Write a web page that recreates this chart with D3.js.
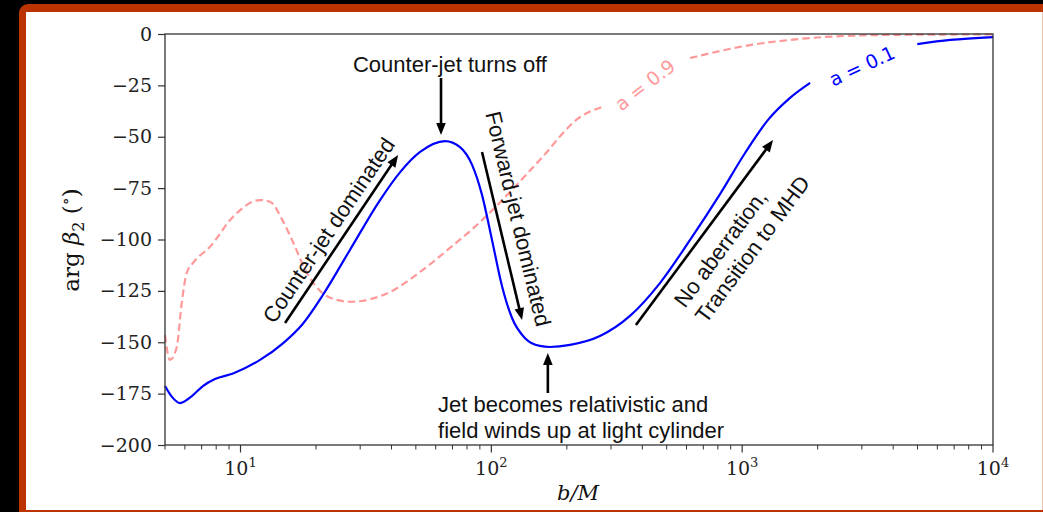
<!DOCTYPE html>
<html>
<head>
<meta charset="utf-8">
<script src="https://cdn.jsdelivr.net/npm/d3@7"></script>
<style>
body { margin: 0; background: #000; }
svg { display: block; }
</style>
</head>
<body>
<script>
// a = 0.1 (solid blue): b/M and arg beta_2 in degrees
var bLow = [5, 5.33, 5.74, 6.4, 7.08, 7.91, 9.34, 11.96, 14.8, 17.7, 21.3, 27.3, 36.0, 43.3, 52, 65.4, 75, 83.8, 91.8, 100.6, 110,
            120.9, 136, 156, 171, 206, 271, 357, 470, 620, 816, 1027, 1268, 1552, 1866, 2457, 3236, 4990, 6745, 10000];
var argLow = [-171.3, -176.6, -179.6, -176.2, -171.3, -167.9, -165.2, -158.6, -150.4, -141.1, -127.0, -105.1, -80.8, -67.2, -57.4, -52.1, -55.0, -63.7, -78.3, -100.2, -122.1,
              -138.2, -147.9, -151.8, -152.3, -151.3, -147.0, -137.2, -121.2, -100.2, -77.9, -57.9, -41.8, -31.1, -23.8, -15.6, -10.2, -4.9, -2.9, -1.5];

// a = 0.9 (dashed light red)
var bHigh = [5, 5.23, 5.57, 5.83, 6.1, 6.47, 7.56, 9.35, 11.96, 13.1, 14.8, 16.2, 18.4, 21.3, 24.2, 27.3, 39.5, 52, 68.4, 90.2,
             118.7, 156, 226, 276, 410, 620, 1075, 1701, 3548, 10000];
var argHigh = [-146.5, -158.6, -152.3, -130.9, -116.3, -111.4, -103.5, -88.9, -80.8, -81.6, -91.3, -101.3, -116.4, -126.2, -129.4, -130.3, -125.5, -115.8, -104.1, -91.5,
               -76.9, -61.3, -40.4, -35.5, -24.8, -11.7, -5.4, -2.4, -0.5, -0.2];

var yTicks = [0, -25, -50, -75, -100, -125, -150, -175, -200];
var xTicks = [10, 100, 1000, 10000];
var xTickExp = ["1", "2", "3", "4"];

// inline line labels: [b, arg, text]
var lineLabels = [[410, -24.8, "a = 0.9"], [3006, -15.6, "a = 0.1"]];
// line gaps behind the labels (b range)
var gapLow = [1866, 4990];
var gapHigh = [276, 620];

// annotation arrows, from / to in data coords
var arrowFrom = [[63, -21.4], [15.05, -140.6], [91.8, -57.4], [168, -174.7], [377, -141.6]];
var arrowTo   = [[63, -49.1], [42.5, -58.9], [132.6, -139.2], [168, -155.2], [1328, -51.6]];

var W = 1043, H = 512;
var svg = d3.select("body").append("svg").attr("width", W).attr("height", H);

// slide frame
svg.append("rect").attr("x", 19).attr("y", 4).attr("width", 1040).attr("height", 530).attr("rx", 9)
    .style("fill", "#bb3400");
svg.append("rect").attr("x", 26).attr("y", 12).attr("width", 1016).attr("height", 498).style("fill", "#fff");
svg.append("line").attr("x1", 1042.5).attr("x2", 1042.5).attr("y1", 12).attr("y2", 510)
    .style("stroke", "#efc2ad");

var x = d3.scaleLog().domain([5, 10000]).range([165, 993]);
var y = d3.scaleLinear().domain([-200, 0]).range([445, 34]);

var serif = "'DejaVu Serif', serif";
var sans = "'Liberation Sans', Arial, sans-serif";

// y axis
var yAxis = svg.append("g").attr("transform", "translate(165,0)")
    .call(d3.axisLeft(y).tickValues(yTicks).tickSize(7).tickPadding(6));
yAxis.select(".domain").remove();
yAxis.selectAll("line").style("stroke", "#333").style("stroke-width", 1.2);
yAxis.selectAll("text").style("font-family", serif).style("font-size", "19px").style("fill", "#222");

// x axis: minor ticks from the log scale, majors labelled 10^n
var minor = x.ticks().filter(function(d) { return xTicks.indexOf(d) < 0; });
var xg = svg.append("g").attr("transform", "translate(0,445)");
xg.selectAll(".minor").data(minor).enter().append("line")
    .attr("x1", function(d) { return x(d); }).attr("x2", function(d) { return x(d); })
    .attr("y1", 0).attr("y2", 4.5)
    .style("stroke", "#333").style("stroke-width", 1);
xg.selectAll(".major").data(xTicks).enter().append("line")
    .attr("x1", function(d) { return x(d); }).attr("x2", function(d) { return x(d); })
    .attr("y1", 0).attr("y2", 7.5)
    .style("stroke", "#333").style("stroke-width", 1.2);
var xl = xg.selectAll(".lab").data(xTicks).enter().append("text")
    .attr("x", function(d) { return x(d); }).attr("y", 30)
    .attr("text-anchor", "middle")
    .style("font-family", serif).style("font-size", "19px").style("fill", "#222");
xl.append("tspan").text("10");
xl.append("tspan").attr("dy", -8).style("font-size", "13px").text(function(d, i) { return xTickExp[i]; });

// curves
var ptsLow = bLow.map(function(b, i) { return {b: b, v: argLow[i]}; });
var ptsHigh = bHigh.map(function(b, i) { return {b: b, v: argHigh[i]}; });

function lineWithGap(gap) {
    return d3.line()
        .defined(function(d) { return !(d.b > gap[0] && d.b < gap[1]); })
        .x(function(d) { return x(d.b); })
        .y(function(d) { return y(d.v); })
        .curve(d3.curveMonotoneX);
}

svg.append("path").datum(ptsHigh).attr("d", lineWithGap(gapHigh))
    .style("fill", "none").style("stroke", "#ff9999").style("stroke-width", 2.2)
    .style("stroke-dasharray", "7.4,4");
svg.append("path").datum(ptsLow).attr("d", lineWithGap(gapLow))
    .style("fill", "none").style("stroke", "#0000ff").style("stroke-width", 2.2);

// inline labels
var labelRot = [-38, -25];
var labelCol = ["#ff9999", "#0000ff"];
lineLabels.forEach(function(l, i) {
    svg.append("text")
        .attr("transform", "translate(" + x(l[0]) + "," + y(l[1]) + ") rotate(" + labelRot[i] + ")")
        .attr("text-anchor", "middle").attr("dy", "0.35em")
        .style("font-family", "'DejaVu Sans', sans-serif").style("font-size", "19px")
        .style("fill", labelCol[i]).text(l[2]);
});

// plot frame
svg.append("rect").attr("x", 165).attr("y", 34).attr("width", 828).attr("height", 411)
    .style("fill", "none").style("stroke", "#333").style("stroke-width", 1.3);

// annotation arrows
var arrows = arrowFrom.map(function(f, i) {
    var t = arrowTo[i];
    var x1 = x(f[0]), y1 = y(f[1]), x2 = x(t[0]), y2 = y(t[1]);
    var dx = x2 - x1, dy = y2 - y1, L = Math.hypot(dx, dy);
    return {x1: x1, y1: y1, x2: x2, y2: y2, L: L, ang: Math.atan2(dy, dx) * 180 / Math.PI};
});

arrows.forEach(function(a) {
    var g = svg.append("g").attr("transform", "translate(" + a.x1 + "," + a.y1 + ") rotate(" + a.ang + ")");
    g.append("line").attr("x1", 0).attr("y1", 0).attr("x2", a.L - 10).attr("y2", 0)
        .style("stroke", "#000").style("stroke-width", 2.6);
    g.append("path").attr("d", "M" + a.L + ",0L" + (a.L - 12) + ",-4.8L" + (a.L - 12) + ",4.8Z")
        .style("fill", "#000");
});

function note(g, tx, ty, anchor, str) {
    return g.append("text").attr("x", tx).attr("y", ty).attr("text-anchor", anchor)
        .style("font-family", sans).style("font-size", "22px").style("fill", "#111").text(str);
}

// 0: counter-jet turns off (horizontal, above arrow)
note(svg, x(68.4), y(-18.5), "middle", "Counter-jet turns off");

// 1: counter-jet dominated (along arrow, above it)
var a1 = arrows[1];
var g1 = svg.append("g").attr("transform", "translate(" + a1.x1 + "," + a1.y1 + ") rotate(" + a1.ang + ")");
note(g1, a1.L / 2, -8, "middle", "Counter-jet dominated");

// 2: forward-jet dominated (reading downwards)
var a2 = arrows[2];
var g2 = svg.append("g").attr("transform", "translate(" + a2.x1 + "," + a2.y1 + ") rotate(" + a2.ang + ")");
note(g2, a2.L / 2 - 13, -12, "middle", "Forward-jet dominated");

// 3: jet becomes relativistic (two lines, left aligned)
note(svg, x(61.3), y(-183.8), "start", "Jet becomes relativistic and");
note(svg, x(61.3), y(-196.6), "start", "field winds up at light cylinder");

// 4: no aberration (two lines below the arrow)
var a4 = arrows[4];
var g4 = svg.append("g").attr("transform", "translate(" + a4.x1 + "," + a4.y1 + ") rotate(" + a4.ang + ")");
note(g4, 42, 30, "start", "No aberration,");
note(g4, 42, 56, "start", "Transition to MHD");

// axis labels
var yl = svg.append("text").attr("transform", "translate(79,240) rotate(-90)")
    .attr("text-anchor", "middle")
    .style("font-family", serif).style("font-size", "23px").style("fill", "#111");
yl.append("tspan").text("arg ");
yl.append("tspan").style("font-style", "italic").text("β");
yl.append("tspan").attr("dy", 5).style("font-size", "16px").text("2");
yl.append("tspan").attr("dy", -5).text(" (");
yl.append("tspan").attr("dy", -8).style("font-size", "16px").text("∘");
yl.append("tspan").attr("dy", 8).text(")");

svg.append("text").attr("x", 578).attr("y", 500).attr("text-anchor", "middle")
    .style("font-family", serif).style("font-size", "21px").style("font-style", "italic").style("fill", "#111")
    .text("b/M");
</script>
</body>
</html>
